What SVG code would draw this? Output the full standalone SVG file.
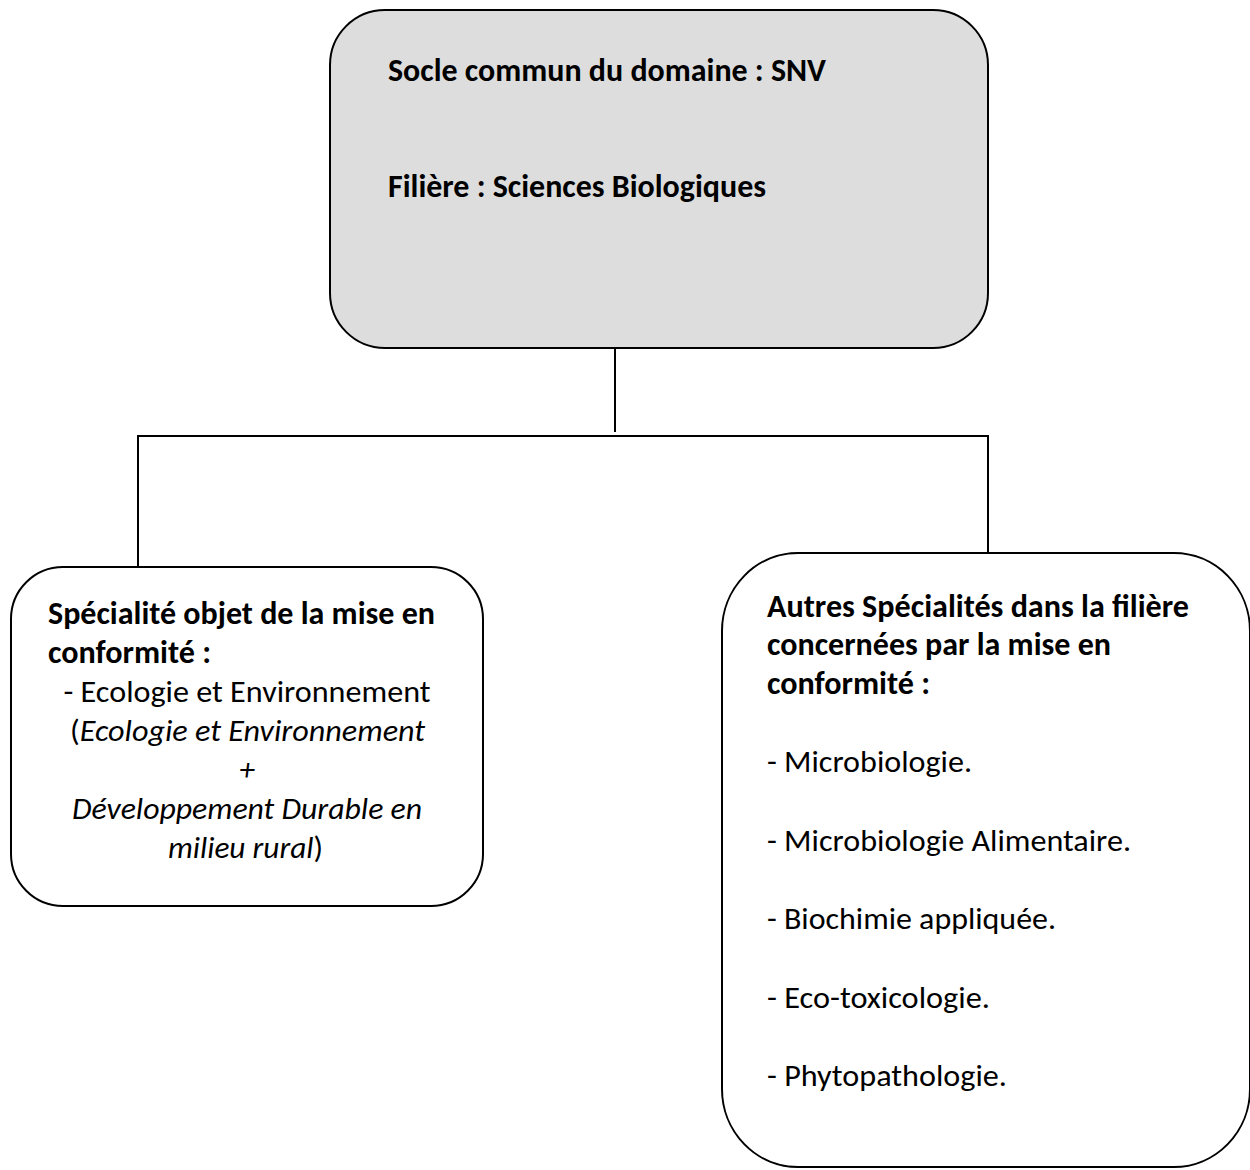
<svg xmlns="http://www.w3.org/2000/svg" width="1250" height="1170" viewBox="0 0 1250 1170">
<style>
.box{stroke:#000;stroke-width:2}
.t{font-family:Carlito,"Liberation Sans",Arial,sans-serif;font-size:31.5px;fill:#000}
.b{font-weight:bold}
.i{font-style:italic}
.m{text-anchor:middle}
.c{fill:none;stroke:#000;stroke-width:2}
</style>
<rect width="1250" height="1170" fill="#fff"/>
<g id="connectors">
<line class="c" x1="615" y1="348" x2="615" y2="432"/>
<line class="c" x1="137" y1="436" x2="989" y2="436"/>
<line class="c" x1="138" y1="436" x2="138" y2="568"/>
<line class="c" x1="988" y1="436" x2="988" y2="553"/>
</g>
<g id="node-socle">
<rect class="box" x="330" y="10" width="658" height="338" rx="55" ry="55" fill="#dddddd"/>
<text class="t b" x="388" y="81" textLength="438" lengthAdjust="spacingAndGlyphs">Socle commun du domaine : SNV</text>
<text class="t b" x="388" y="197" textLength="378" lengthAdjust="spacingAndGlyphs">Filière : Sciences Biologiques</text>
</g>
<g id="node-specialite">
<rect class="box" x="11" y="567" width="472" height="339" rx="52" ry="52" fill="#fff"/>
<text class="t b" x="48" y="624" textLength="387" lengthAdjust="spacingAndGlyphs">Spécialité objet de la mise en</text>
<text class="t b" x="48" y="663" textLength="163" lengthAdjust="spacingAndGlyphs">conformité :</text>
<text class="t m" x="247" y="702" textLength="367" lengthAdjust="spacingAndGlyphs">- Ecologie et Environnement</text>
<text class="t m" x="247.5" y="741" textLength="355" lengthAdjust="spacingAndGlyphs">(<tspan class="i">Ecologie et Environnement</tspan></text>
<text class="t m i" x="247" y="780">+</text>
<text class="t m i" x="247" y="819" textLength="350" lengthAdjust="spacingAndGlyphs">Développement Durable en</text>
<text class="t m" x="245.5" y="858" textLength="155" lengthAdjust="spacingAndGlyphs"><tspan class="i">milieu rural</tspan>)</text>
</g>
<g id="node-autres">
<rect class="box" x="722" y="553" width="528" height="614" rx="76" ry="78" fill="#fff"/>
<text class="t b" x="767" y="617" textLength="422" lengthAdjust="spacingAndGlyphs">Autres Spécialités dans la filière</text>
<text class="t b" x="767" y="655" textLength="344" lengthAdjust="spacingAndGlyphs">concernées par la mise en</text>
<text class="t b" x="767" y="694" textLength="163" lengthAdjust="spacingAndGlyphs">conformité :</text>
<text class="t" x="767" y="772" textLength="205" lengthAdjust="spacingAndGlyphs">- Microbiologie.</text>
<text class="t" x="767" y="850.5" textLength="364" lengthAdjust="spacingAndGlyphs">- Microbiologie Alimentaire.</text>
<text class="t" x="767" y="929" textLength="289" lengthAdjust="spacingAndGlyphs">- Biochimie appliquée.</text>
<text class="t" x="767" y="1007.5" textLength="223" lengthAdjust="spacingAndGlyphs">- Eco-toxicologie.</text>
<text class="t" x="767" y="1086" textLength="240" lengthAdjust="spacingAndGlyphs">- Phytopathologie.</text>
</g>
</svg>
